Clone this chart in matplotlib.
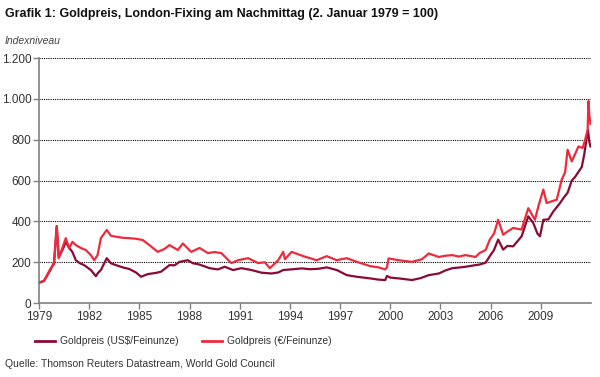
import matplotlib.pyplot as plt
from matplotlib.lines import Line2D

# Index values (2 Jan 1979 = 100)
usd_years = [1979.0, 1979.3, 1979.7, 1979.9, 1980.06, 1980.18, 1980.4, 1980.6, 1980.8,
             1981.0, 1981.2, 1981.45, 1981.7, 1982.1, 1982.4, 1982.55, 1982.7, 1983.05,
             1983.3, 1983.6, 1984.0, 1984.4, 1984.8, 1985.1, 1985.5, 1986.0, 1986.3,
             1986.8, 1987.1, 1987.4, 1987.9, 1988.2, 1988.5, 1988.9, 1989.2, 1989.7,
             1990.1, 1990.6, 1991.1, 1991.7, 1992.3, 1992.9, 1993.3, 1993.6, 1994.2,
             1994.7, 1995.2, 1995.7, 1996.2, 1996.8, 1997.4, 1998.0, 1998.8, 1999.3,
             1999.7, 1999.8, 2000.0, 2000.5, 2001.3, 2001.8, 2002.3, 2002.9, 2003.3,
             2003.7, 2004.2, 2004.5, 2005.1, 2005.35, 2005.7, 2005.95, 2006.2, 2006.45,
             2006.75, 2007.0, 2007.35, 2007.85, 2008.25, 2008.55, 2008.8, 2008.95, 2009.15,
             2009.45, 2009.75, 2010.15, 2010.4, 2010.6, 2010.85, 2011.05, 2011.45,
             2011.6, 2011.75, 2011.82, 2011.9, 2011.97]
usd_index = [100, 108, 165, 200, 377, 225, 260, 300, 270,
             250, 210, 195, 186, 162, 132, 150, 162, 220,
             195, 186, 175, 167, 150, 129, 142, 148, 154,
             186, 185, 202, 210, 195, 191, 180, 171, 165,
             178, 162, 171, 162, 149, 145, 150, 162, 166,
             170, 166, 168, 175, 162, 137, 129, 121, 115,
             113, 133, 125, 121, 113, 122, 137, 145, 160,
             171, 175, 178, 186, 189, 198, 230, 260, 311,
             262, 280, 278, 327, 425, 392, 340, 327, 408,
             410, 449, 490, 520, 540, 600, 618, 667,
             730, 814, 847, 790, 767]

eur_years = [1979.0, 1979.3, 1979.7, 1979.9, 1980.06, 1980.18, 1980.4, 1980.6, 1980.8,
             1981.0, 1981.2, 1981.5, 1981.8, 1982.1, 1982.3, 1982.5, 1982.7, 1983.05,
             1983.3, 1983.6, 1984.0, 1984.4, 1984.8, 1985.2, 1985.6, 1986.1, 1986.5,
             1986.8, 1987.3, 1987.6, 1988.1, 1988.6, 1989.1, 1989.5, 1989.9, 1990.5,
             1990.9, 1991.5, 1992.1, 1992.5, 1992.8, 1993.3, 1993.6, 1993.7, 1994.1,
             1994.8, 1995.6, 1996.2, 1996.8, 1997.4, 1998.0, 1998.8, 1999.3, 1999.7,
             1999.8, 1999.9, 2000.5, 2001.3, 2001.9, 2002.3, 2002.9, 2003.3, 2003.7,
             2004.1, 2004.5, 2005.1, 2005.35, 2005.7, 2005.95, 2006.2, 2006.45, 2006.75,
             2007.0, 2007.35, 2007.85, 2008.25, 2008.65, 2008.85, 2009.15, 2009.35,
             2009.7, 2009.95, 2010.25, 2010.45, 2010.6, 2010.85, 2011.25, 2011.5,
             2011.65, 2011.8, 2011.85, 2011.9, 2011.97]
eur_index = [100, 110, 171, 190, 377, 220, 270, 318, 270,
             300, 284, 270, 260, 235, 210, 235, 318, 358,
             330, 325, 320, 318, 315, 309, 284, 251, 265,
             284, 260, 292, 251, 270, 245, 250, 245, 196,
             210, 220, 196, 200, 171, 210, 251, 215, 251,
             230, 210, 230, 210, 220, 202, 181, 175, 165,
             175, 219, 210, 202, 215, 243, 226, 232, 235,
             228, 235, 226, 246, 260, 311, 340, 408, 335,
             350, 368, 360, 465, 408, 473, 556, 490,
             500, 506, 605, 640, 751, 694, 767, 760,
             800, 850, 990, 920, 878]

year_ticks = [1979, 1982, 1985, 1988, 1991, 1994, 1997, 2000, 2003, 2006, 2009]
y_ticks = [0, 200, 400, 600, 800, 1000, 1200]
y_labels = ['0', '200', '400', '600', '800', '1.000', '1.200']

usd_color = '#8a0a35'
eur_color = '#ee2a3c'

plt.rcParams['font.family'] = ['Liberation Sans', 'DejaVu Sans']

fig = plt.figure(figsize=(6, 3.77), dpi=100)
ax = fig.add_axes([0.065, 0.196, 0.92, 0.65])

ax.plot(usd_years, usd_index, color=usd_color, lw=1.6, zorder=2)
ax.plot(eur_years, eur_index, color=eur_color, lw=1.6, zorder=3)

ax.set_xlim(1979, 2012.0)
ax.set_ylim(0, 1200)
ax.set_xticks(year_ticks)
ax.set_xticklabels([str(y) for y in year_ticks])
ax.set_yticks(y_ticks)
ax.set_yticklabels(y_labels)

# dotted gridlines above zero
for v in y_ticks[1:]:
    ax.axhline(v, color='black', lw=0.8, linestyle=(0, (1, 1)), zorder=1)

for s in ['top', 'right']:
    ax.spines[s].set_visible(False)
for s in ['left', 'bottom']:
    ax.spines[s].set_color('#808080')
    ax.spines[s].set_linewidth(1.2)
ax.tick_params(axis='both', colors='#808080', length=4, width=1, labelsize=8.5,
               labelcolor='#333333', pad=1.5)

fig.text(0.008, 0.962, 'Grafik 1: Goldpreis, London-Fixing am Nachmittag (2. Januar 1979 = 100)',
         fontsize=9, fontweight='bold', va='center', ha='left', color='#111111')
fig.text(0.008, 0.89, 'Indexniveau', fontsize=7.5, style='italic', va='center', ha='left',
         color='#444444')

handles = [Line2D([], [], color=usd_color, lw=2), Line2D([], [], color=eur_color, lw=2)]
fig.legend(handles, ['Goldpreis (US$/Feinunze)', 'Goldpreis (€/Feinunze)'],
           loc='center left', bbox_to_anchor=(0.058, 0.095), ncol=2, frameon=False,
           fontsize=7.4, handlelength=2.0, columnspacing=2.2, handletextpad=0.5,
           borderpad=0, borderaxespad=0, labelcolor='#333333')

fig.text(0.008, 0.034, 'Quelle: Thomson Reuters Datastream, World Gold Council',
         fontsize=7.5, va='center', ha='left', color='#333333')

fig.savefig('out.png', dpi=100)
